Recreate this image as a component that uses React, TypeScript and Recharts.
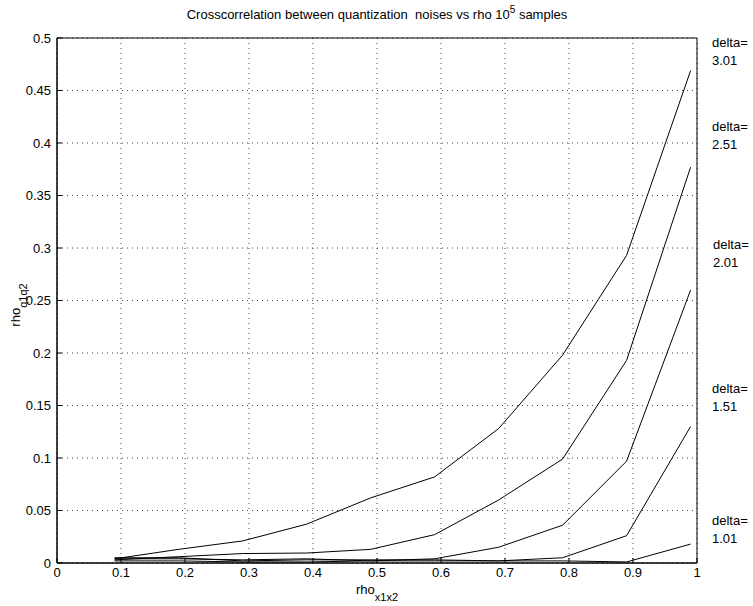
import React from 'react';
import { LineChart, Line, XAxis, YAxis, CartesianGrid, ReferenceArea } from 'recharts';

const rho = [0.09, 0.19, 0.29, 0.39, 0.49, 0.59, 0.69, 0.79, 0.89, 0.99];

const delta301 = [0.004, 0.013, 0.021, 0.037, 0.062, 0.082, 0.128, 0.198, 0.293, 0.469];
const delta251 = [0.003, 0.006, 0.009, 0.0095, 0.013, 0.027, 0.06, 0.099, 0.193, 0.377];
const delta201 = [0.004, 0.004, 0.003, 0.004, 0.002, 0.004, 0.015, 0.036, 0.097, 0.26];
const delta151 = [0.005, 0.005, 0.002, 0.003, 0.003, 0.003, 0.002, 0.005, 0.026, 0.13];
const delta101 = [0.002, 0.002, 0.001, 0.001, 0.002, 0.002, 0.002, 0.002, 0.001, 0.018];

const xTicks = [0, 0.1, 0.2, 0.3, 0.4, 0.5, 0.6, 0.7, 0.8, 0.9, 1];
const yTicks = [0, 0.05, 0.1, 0.15, 0.2, 0.25, 0.3, 0.35, 0.4, 0.45, 0.5];

const seriesKeys = ['d301', 'd251', 'd201', 'd151', 'd101'];
const seriesValues = [delta301, delta251, delta201, delta151, delta101];

const deltaLabels = [
  { name: 'delta=', value: '3.01', top: 34, left: 712 },
  { name: 'delta=', value: '2.51', top: 118, left: 712 },
  { name: 'delta=', value: '2.01', top: 236, left: 713 },
  { name: 'delta=', value: '1.51', top: 380, left: 712 },
  { name: 'delta=', value: '1.01', top: 512, left: 712 },
];

const data = rho.map((r, i) => {
  const row: Record<string, number> = { rho: r };
  seriesKeys.forEach((k, j) => { row[k] = seriesValues[j][i]; });
  return row;
});

const font = '"Liberation Sans", Arial, Helvetica, sans-serif';
const tickStyle = { fontSize: 13, fill: '#000', fontFamily: font };
const axisLine = { stroke: '#000', strokeWidth: 1 };

export default function App() {
  return (
    <div style={{ position: 'absolute', left: 0, top: 0, width: 753, height: 606, background: '#fff', fontFamily: font }}>
      <LineChart width={753} height={606} data={data} margin={{ top: 38, right: 56, bottom: 0, left: 0 }}>
        <CartesianGrid stroke="#444" strokeDasharray="1 4" />
        <XAxis
          dataKey="rho" type="number" domain={[0, 1]} ticks={xTicks} height={43}
          axisLine={axisLine} tickLine={axisLine} tickSize={-5} tickMargin={10} tick={tickStyle} interval={0}
        />
        <XAxis
          xAxisId="top" orientation="top" dataKey="rho" type="number" domain={[0, 1]} ticks={xTicks}
          height={0} axisLine={axisLine} tickLine={axisLine} tickSize={-5} tick={false}
        />
        <YAxis
          type="number" domain={[0, 0.5]} ticks={yTicks} width={57}
          axisLine={axisLine} tickLine={axisLine} tickSize={-5} tickMargin={11} tick={tickStyle} interval={0}
        />
        <YAxis
          yAxisId="right" orientation="right" type="number" domain={[0, 0.5]} ticks={yTicks}
          width={0} axisLine={axisLine} tickLine={axisLine} tickSize={-5} tick={false}
        />
        {/* solid box around the plot, like matlab's axes frame */}
        <ReferenceArea x1={0} x2={1} y1={0} y2={0.5} fill="none" fillOpacity={0} stroke="#000" strokeWidth={1} ifOverflow="visible" />
        {seriesKeys.map((k) => (
          <Line key={k} dataKey={k} type="linear" stroke="#000" strokeWidth={1} dot={false} isAnimationActive={false} />
        ))}
      </LineChart>
      <svg width={753} height={606} style={{ position: 'absolute', left: 0, top: 0, pointerEvents: 'none' }}>
        <text x={377} y={19} textAnchor="middle" fontSize={13} fontFamily={font} fill="#000" style={{ whiteSpace: 'pre' }}>
          Crosscorrelation between quantization  noises vs rho 10<tspan dy={-6} fontSize={10}>5</tspan><tspan dy={6}> samples</tspan>
        </text>
        <text x={377} y={594} textAnchor="middle" fontSize={13} fontFamily={font} fill="#000">
          rho<tspan dy={7} fontSize={11}>x1x2</tspan>
        </text>
        <text transform="translate(20,305) rotate(-90)" textAnchor="middle" fontSize={13} fontFamily={font} fill="#000">
          rho<tspan dy={7} fontSize={11}>q1q2</tspan>
        </text>
      </svg>
      {deltaLabels.map((d) => (
        <div key={d.value} style={{ position: 'absolute', left: d.left, top: d.top, fontSize: 13, lineHeight: '18px', color: '#000' }}>
          <div>{d.name}</div>
          <div>{d.value}</div>
        </div>
      ))}
    </div>
  );
}
